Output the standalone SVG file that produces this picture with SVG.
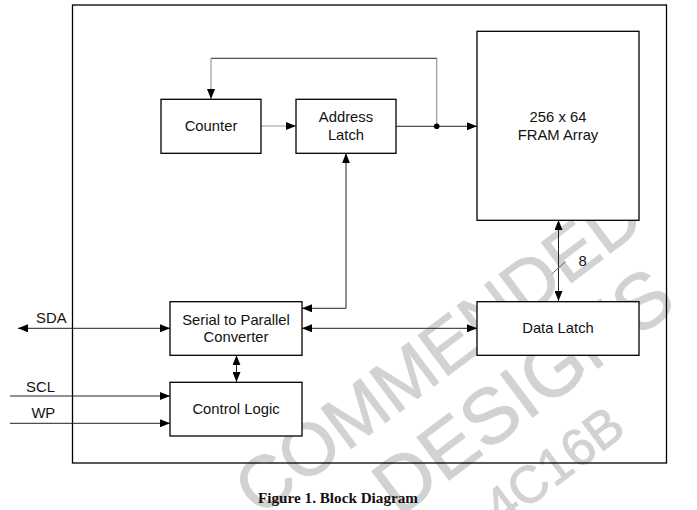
<svg xmlns="http://www.w3.org/2000/svg" width="697" height="510" viewBox="0 0 697 510">
<style>
  .box { fill: #ffffff; stroke: #000000; stroke-width: 1.3; }
  .lbl { font-family: "Liberation Sans", Arial, sans-serif; font-size: 14.8px; fill: #111111; text-anchor: middle; }
  .wm { font-family: "Liberation Sans", Arial, sans-serif; fill: #d2d2d2; stroke: #d2d2d2; stroke-width: 1; stroke-linejoin: round; }
  .cn { fill: none; stroke: #222222; stroke-width: 1; }
  .cg { fill: none; stroke: #9a9a9a; stroke-width: 1.2; }
  .cap { font-family: "Liberation Serif", "Times New Roman", serif; font-weight: bold; font-size: 15px; fill: #111111; text-anchor: middle; }
</style>
<defs>
  <marker id="arr" viewBox="0 0 10 8" refX="10" refY="4" markerWidth="10" markerHeight="8" markerUnits="userSpaceOnUse" orient="auto-start-reverse">
    <path d="M0,0 L10,4 L0,8 z" fill="#000000"/>
  </marker>
</defs>
<rect x="0" y="0" width="697" height="510" fill="#ffffff"/>
<g id="watermark">
  <text class="wm" font-size="73" transform="translate(259,518) rotate(-37)">COMMENDED</text>
  <text class="wm" font-size="78" transform="translate(399,518) rotate(-37)">DESIGNS</text>
  <text class="wm" font-size="52" transform="translate(501,528) rotate(-37)">4C16B</text>
</g>
<rect id="frame" x="72.5" y="5" width="594" height="458" fill="none" stroke="#000000" stroke-width="1.3"/>
<g id="connectors">
  <polyline class="cg" points="436.7,126.3 436.7,58.3"/>
  <polyline class="cn" points="436.7,58.3 211,58.3"/>
  <line class="cg" x1="211" y1="58.3" x2="211" y2="99" marker-end="url(#arr)"/>
  <line class="cg" x1="261" y1="126" x2="296" y2="126" marker-end="url(#arr)"/>
  <line class="cn" x1="396" y1="126.3" x2="477" y2="126.3" marker-end="url(#arr)"/>
  <circle cx="436.7" cy="126.3" r="2.8" fill="#000000"/>
  <polyline class="cn" points="346,153.3 346,308.3 302,308.3" marker-start="url(#arr)" marker-end="url(#arr)"/>
  <line class="cn" x1="302" y1="328.3" x2="477" y2="328.3" stroke="#444444" marker-start="url(#arr)" marker-end="url(#arr)"/>
  <line class="cn" x1="558.5" y1="220" x2="558.5" y2="301" marker-start="url(#arr)" marker-end="url(#arr)"/>
  <line x1="551.7" y1="274" x2="565.5" y2="261.7" stroke="#666666" stroke-width="1"/>
  <line class="cn" x1="236.5" y1="355.3" x2="236.5" y2="382" marker-start="url(#arr)" marker-end="url(#arr)"/>
  <line class="cn" x1="18" y1="328.3" x2="170" y2="328.3" stroke="#444444" marker-start="url(#arr)" marker-end="url(#arr)"/>
  <line class="cn" x1="10" y1="396" x2="170" y2="396" stroke="#555555" marker-end="url(#arr)"/>
  <line class="cn" x1="10" y1="423.3" x2="170" y2="423.3" stroke="#555555" marker-end="url(#arr)"/>
  <text class="lbl" x="582.5" y="266">8</text>
  <text class="lbl" x="51.3" y="323.3">SDA</text>
  <text class="lbl" x="40.5" y="391.7">SCL</text>
  <text class="lbl" x="43.3" y="418.3">WP</text>
</g>
<g id="counter">
  <rect class="box" x="161" y="99.3" width="100" height="54"/>
  <text class="lbl" x="211" y="131.3">Counter</text>
</g>
<g id="address-latch">
  <rect class="box" x="296" y="99.3" width="100" height="54"/>
  <text class="lbl" x="346" y="122.4">Address</text>
  <text class="lbl" x="346" y="140.2">Latch</text>
</g>
<g id="fram-array">
  <rect class="box" x="477" y="31.3" width="162" height="189"/>
  <text class="lbl" x="558" y="122.3">256 x 64</text>
  <text class="lbl" x="558" y="140.1">FRAM Array</text>
</g>
<g id="serial-to-parallel">
  <rect class="box" x="170" y="301.7" width="132" height="53.6"/>
  <text class="lbl" x="236" y="324.5">Serial to Parallel</text>
  <text class="lbl" x="236" y="342.3">Converter</text>
</g>
<g id="data-latch">
  <rect class="box" x="477" y="301.7" width="162" height="53.6"/>
  <text class="lbl" x="558" y="333.3">Data Latch</text>
</g>
<g id="control-logic">
  <rect class="box" x="170" y="382.3" width="132" height="53.7"/>
  <text class="lbl" x="236" y="414.3">Control Logic</text>
</g>
<text class="cap" x="338" y="503.3" textLength="160" lengthAdjust="spacingAndGlyphs">Figure 1. Block Diagram</text>
</svg>
